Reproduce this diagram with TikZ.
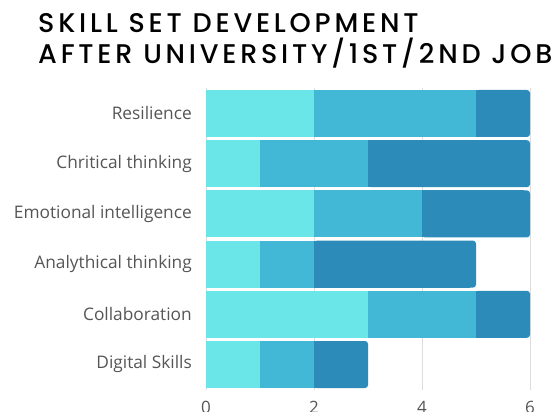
\documentclass[tikz,border=0pt]{standalone}
\usepackage{fontspec}
\setmainfont{Open Sans}
\newfontfamily\titlefont[LetterSpace=14]{Poppins Medium}
\definecolor{seglight}{HTML}{6AE5E8}
\definecolor{segmid}{HTML}{42B7D6}
\definecolor{segdark}{HTML}{2D8BBA}
\definecolor{labelgray}{HTML}{555555}
\definecolor{gridgray}{HTML}{DDDDDD}

\tikzset{
	skilllabel/.style={anchor=east,inner sep=0pt,text=labelgray,font=\fontsize{17.3}{20}\selectfont},
	ticklabel/.style={anchor=north,inner sep=0pt,text=labelgray,font=\fontsize{17}{20}\selectfont},
	titleline/.style={anchor=base west,inner sep=0pt,font=\titlefont\fontsize{27}{30}\selectfont},
	gridline/.style={draw=gridgray,line width=1pt}
}

\begin{document}
\begin{tikzpicture}[x=1pt,y=-1pt]
	\useasboundingbox (0,0) rectangle (555,412);
	
	% title
	\node[titleline] (title1) at (38,33) {SKILL SET DEVELOPMENT};
	\node[titleline] (title2) at (38,64) {AFTER UNIVERSITY/1ST/2ND JOB};
	
	% grid and axis
	\foreach \k in {0,...,3}{
		\pgfmathtruncatemacro{\val}{2*\k}
		\draw[gridline] (206+108*\k,88) -- (206+108*\k,390);
		\node[ticklabel] (tick\k) at (206+108*\k,401) {\val};
	}
	
	% bars
	\foreach \skill/\a/\b/\c [count=\i from 0] in {Resilience/2/3/1, Chritical thinking/1/2/3, Emotional intelligence/2/2/2, Analythical thinking/1/1/3, Collaboration/3/2/1, Digital Skills/1/1/1}{
		\pgfmathsetmacro{\ytop}{90+50.2*\i}
		\pgfmathsetmacro{\ybot}{\ytop+47}
		\pgfmathsetmacro{\ymid}{\ytop+23.5}
		\pgfmathsetmacro{\xa}{206+54*\a}
		\pgfmathsetmacro{\xb}{206+54*(\a+\b)}
		\pgfmathsetmacro{\xc}{206+54*(\a+\b+\c)}
		\fill[segdark,rounded corners=3pt] (\xb,\ytop) rectangle (\xc,\ybot);
		\fill[segdark] (\xb,\ytop) rectangle (\xc-6,\ybot);
		\fill[segmid] (\xa,\ytop) rectangle (\xb,\ybot);
		\fill[seglight] (206,\ytop) rectangle (\xa,\ybot);
		\node[skilllabel] (skill\i) at (192,\ymid) {\skill};
	}
	
\end{tikzpicture}
\end{document}
